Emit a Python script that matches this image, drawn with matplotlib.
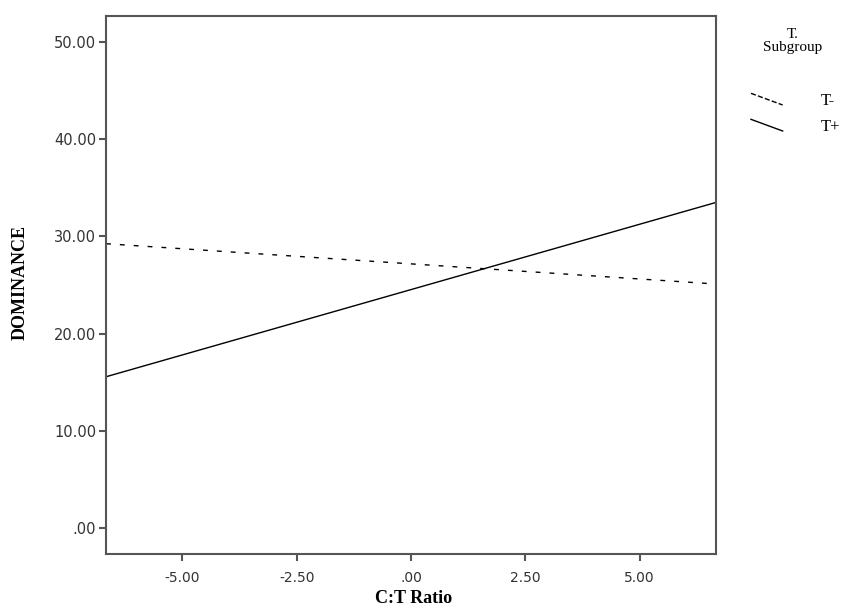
import numpy as np
import matplotlib
matplotlib.use("Agg")
import matplotlib.pyplot as plt
from matplotlib.lines import Line2D
from matplotlib.legend_handler import HandlerLine2D

# data: fitted lines (endpoints at the axis limits)
x_ends = [-6.67, 6.67]
t_minus = [29.25, 25.1]
t_plus = [15.55, 33.5]
groups = ["T-", "T+"]

x_ticks = [-5.0, -2.5, 0.0, 2.5, 5.0]
x_ticklabels = ["-5.00", "-2.50", ".00", "2.50", "5.00"]
y_ticks = [0, 10, 20, 30, 40, 50]
y_ticklabels = [".00", "10.00", "20.00", "30.00", "40.00", "50.00"]

SPINE = "#555555"
SERIF = "Liberation Serif"


class SlantHandler(HandlerLine2D):
    # SPSS-style slanted legend sample
    def create_artists(self, legend, orig_handle, xdescent, ydescent,
                       width, height, fontsize, trans):
        ln = Line2D([-xdescent, -xdescent + width],
                    [-ydescent + height, -ydescent],
                    color=orig_handle.get_color(),
                    linestyle=orig_handle.get_linestyle(),
                    linewidth=orig_handle.get_linewidth())
        ln.set_transform(trans)
        return [ln]


fig = plt.figure(figsize=(8.46, 6.05), dpi=100)
ax = fig.add_axes([0.1253, 0.0843, 0.721, 0.8893])

l1, = ax.plot(x_ends, t_minus, color="black", lw=1.0, ls=(0, (3.5, 6.5)))
l2, = ax.plot(x_ends, t_plus, color="black", lw=1.0)

ax.set_xlim(-6.67, 6.67)
ax.set_ylim(-2.7, 52.7)
ax.set_xticks(x_ticks)
ax.set_xticklabels(x_ticklabels)
ax.set_yticks(y_ticks)
ax.set_yticklabels(y_ticklabels)
ax.tick_params(axis="both", direction="out", length=5, width=1.5,
               color=SPINE, labelsize=10.5, labelcolor="#333333", pad=2)
ax.tick_params(axis="x", pad=7, labelsize=10)
for s in ax.spines.values():
    s.set_color(SPINE)
    s.set_linewidth(1.5)

ax.set_xlabel("C:T Ratio", family=SERIF, fontweight="bold", fontsize=13)
ax.xaxis.label.set_va("center")
ax.xaxis.set_label_coords(0.504, -0.082)
ax.set_ylabel("DOMINANCE", family=SERIF, fontweight="bold", fontsize=13)
ax.yaxis.label.set_va("center")
ax.yaxis.set_label_coords(-0.141, 0.505)

# legend
fig.text(793 / 846, 1 - 28 / 605, "T.\nSubgroup", family=SERIF, fontsize=11,
         ha="center", va="top", linespacing=0.95)
ax.legend([l1, l2], groups, handler_map={Line2D: SlantHandler()},
          loc="upper left", bbox_to_anchor=(751 / 846, 1 - 93 / 605),
          bbox_transform=fig.transFigure, frameon=False,
          prop={"family": SERIF, "size": 12}, borderpad=0, borderaxespad=0,
          handlelength=1.9, handletextpad=2.3, labelspacing=0.6)

plt.savefig("out.png", dpi=100)
